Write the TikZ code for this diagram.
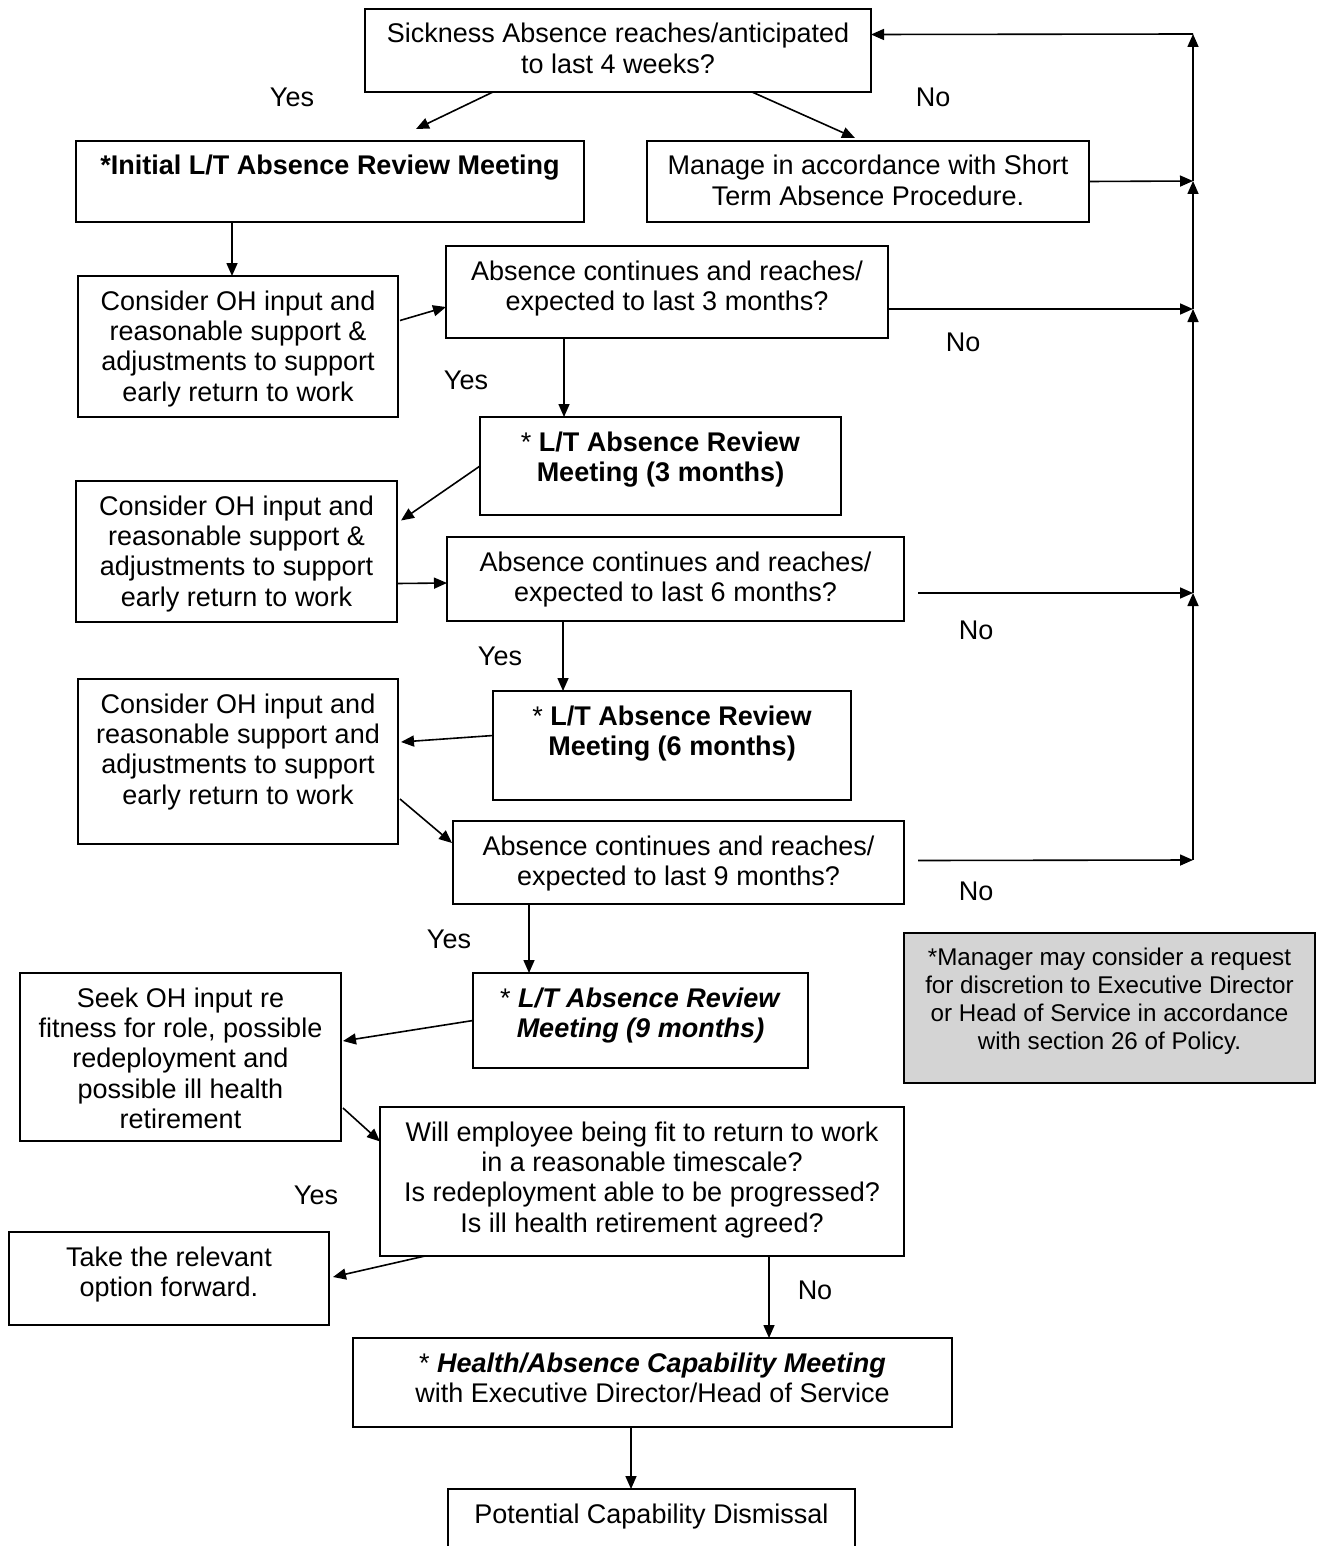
\documentclass[tikz,border=0pt]{standalone}
\usepackage{fontspec}
\setmainfont{Liberation Sans}
\usetikzlibrary{calc,arrows.meta}
\newlength\pxu
\setlength\pxu{0.5pt}
% box content: width, height (px), text
\newcommand\bx[3]{\parbox[c][#2\pxu][t]{#1\pxu}{\centering\fontsize{13.5}{15.2}\selectfont\rule{0pt}{17pt}#3\par}}
\newcommand\nbx[3]{\parbox[c][#2\pxu][t]{#1\pxu}{\centering\fontsize{12.1}{14}\selectfont\rule{0pt}{16pt}#3\par}}
\definecolor{notegrey}{HTML}{D4D4D4}
\tikzset{
  fbox/.style={draw, line width=0.8pt, inner sep=0pt, outer sep=0pt, anchor=north west},
  arr/.style={line width=0.8pt, -{Triangle[length=6.5pt,width=5.5pt]}},
  lbl/.style={inner sep=0pt, font=\fontsize{13.5}{15}\selectfont},
}
\begin{document}
\begin{tikzpicture}[x=0.5pt,y=-0.5pt]
\useasboundingbox (0,0) rectangle (1316,1546);
\clip (0,0) rectangle (1316,1546);
\fill[white] (0,0) rectangle (1316,1546);

% boxes
\node[fbox] (n1) at (365,9) {\bx{506}{83}{Sickness Absence reaches/anticipated\\to last 4 weeks?}};
\node[fbox] (init) at (76,141) {\bx{508}{81}{\textbf{*Initial L/T Absence Review Meeting}}};
\node[fbox] (manage) at (647,141) {\bx{442}{81}{Manage in accordance with Short\\Term Absence Procedure.}};
\node[fbox] (c1) at (78,276) {\bx{320}{141}{Consider OH input and\\reasonable support \&\\adjustments to support\\early return to work}};
\node[fbox] (q3) at (446,246) {\bx{442}{92}{Absence continues and reaches/\\expected to last 3 months?}};
\node[fbox] (m3) at (480,417) {\bx{361}{98}{* \textbf{L/T Absence Review}\\\textbf{Meeting (3 months)}}};
\node[fbox] (c2) at (76,481) {\bx{321}{141}{Consider OH input and\\reasonable support \&\\adjustments to support\\early return to work}};
\node[fbox] (q6) at (447,537) {\bx{457}{84}{Absence continues and reaches/\\expected to last 6 months?}};
\node[fbox] (m6) at (493,691) {\bx{358}{109}{* \textbf{L/T Absence Review}\\\textbf{Meeting (6 months)}}};
\node[fbox] (c3) at (78,679) {\bx{320}{165}{Consider OH input and\\reasonable support and\\adjustments to support\\early return to work}};
\node[fbox] (q9) at (453,821) {\bx{451}{83}{Absence continues and reaches/\\expected to last 9 months?}};
\node[fbox] (m9) at (473,973) {\bx{335}{95}{* \textbf{\textit{L/T Absence Review}}\\\textbf{\textit{Meeting (9 months)}}}};
\node[fbox] (seek) at (20,973) {\bx{321}{168}{Seek OH input re\\fitness for role, possible\\redeployment and\\possible ill health\\retirement}};
\node[fbox] (will) at (380,1107) {\bx{524}{149}{Will employee being fit to return to work\\in a reasonable timescale?\\Is redeployment able to be progressed?\\Is ill health retirement agreed?}};
\node[fbox] (take) at (9,1232) {\bx{320}{93}{Take the relevant\\option forward.}};
\node[fbox] (health) at (353,1338) {\bx{599}{89}{* \textbf{\textit{Health/Absence Capability Meeting}}\\with Executive Director/Head of Service}};
\node[fbox] (pot) at (448,1489) {\bx{407}{80}{Potential Capability Dismissal}};
\node[fbox, fill=notegrey] (note) at (904,933) {\nbx{411}{150}{*Manager may consider a request\\for discretion to Executive Director\\or Head of Service in accordance\\with section 26 of Policy.}};

% labels
\node[lbl] (y1) at (292,97) {Yes};
\node[lbl] (no1) at (933,97) {No};
\node[lbl] (no2) at (963,342) {No};
\node[lbl] (y2) at (466,380) {Yes};
\node[lbl] (y3) at (500,656) {Yes};
\node[lbl] (no3) at (976,630) {No};
\node[lbl] (no4) at (976,891) {No};
\node[lbl] (y4) at (449,939) {Yes};
\node[lbl] (y5) at (316,1195) {Yes};
\node[lbl] (no5) at (815,1290) {No};

% right-hand return rail
\coordinate (r9) at (1193,860);
\coordinate (r6) at (1193,593);
\coordinate (r3) at (1193,309);
\coordinate (rm) at (1193,181);
\coordinate (rt) at (1193,34);

\draw[arr] ($(q9.east)+(14,-2)$) -- (r9);
\draw[arr] (r9) -- (r6);
\draw[arr] ($(q6.east)+(14,14)$) -- (r6);
\draw[arr] (r6) -- (r3);
\draw[arr] ($(q3.east)+(0,17)$) -- (r3);
\draw[arr] (r3) -- (rm);
\draw[arr] (manage.east) -- (rm);
\draw[arr] (rm) -- (rt);
\draw[arr] (rt) -- ($(n1.east)+(0,-16)$);

% main flow
\draw[arr] ($(n1.south west)+(128,0)$) -- ($(init.north)+(86,-12)$);
\draw[arr] ($(n1.south west)+(387,0)$) -- ($(manage.north)+(-13,-3)$);
\draw[arr] ($(init.south)+(-98,0)$) -- ($(c1.north)+(-6,0)$);
\draw[arr] ($(c1.east)+(2,-26)$) -- ($(q3.west)+(0,15)$);
\draw[arr] ($(q3.south)+(-103,0)$) -- ($(m3.north)+(-96.5,0)$);
\draw[arr] (m3.west) -- ($(c2.east)+(4,-31)$);
\draw[arr] ($(c2.east)+(0,32)$) -- ($(q6.west)+(0,4)$);
\draw[arr] ($(q6.south)+(-112.5,0)$) -- ($(m6.north)+(-109,0)$);
\draw[arr] ($(m6.west)+(0,-10)$) -- ($(c3.east)+(3,-19.5)$);
\draw[arr] ($(c3.east)+(2,37.5)$) -- ($(q9.west)+(-1,-19.5)$);
\draw[arr] ($(q9.south)+(-149.5,0)$) -- ($(m9.north)+(-111.5,0)$);
\draw[arr] (m9.west) -- ($(seek.east)+(2,-16)$);
\draw[arr] ($(seek.east)+(2,51)$) -- ($(will.west)+(0,-40)$);
\draw[arr] ($(will.south west)+(45,0)$) -- ($(take.east)+(4,-1.5)$);
\draw[arr] ($(will.south)+(127,0)$) -- ($(health.north)+(116.5,0)$);
\draw[arr] ($(health.south)+(-21.5,0)$) -- ($(pot.north)+(-20.5,0)$);
\end{tikzpicture}
\end{document}
